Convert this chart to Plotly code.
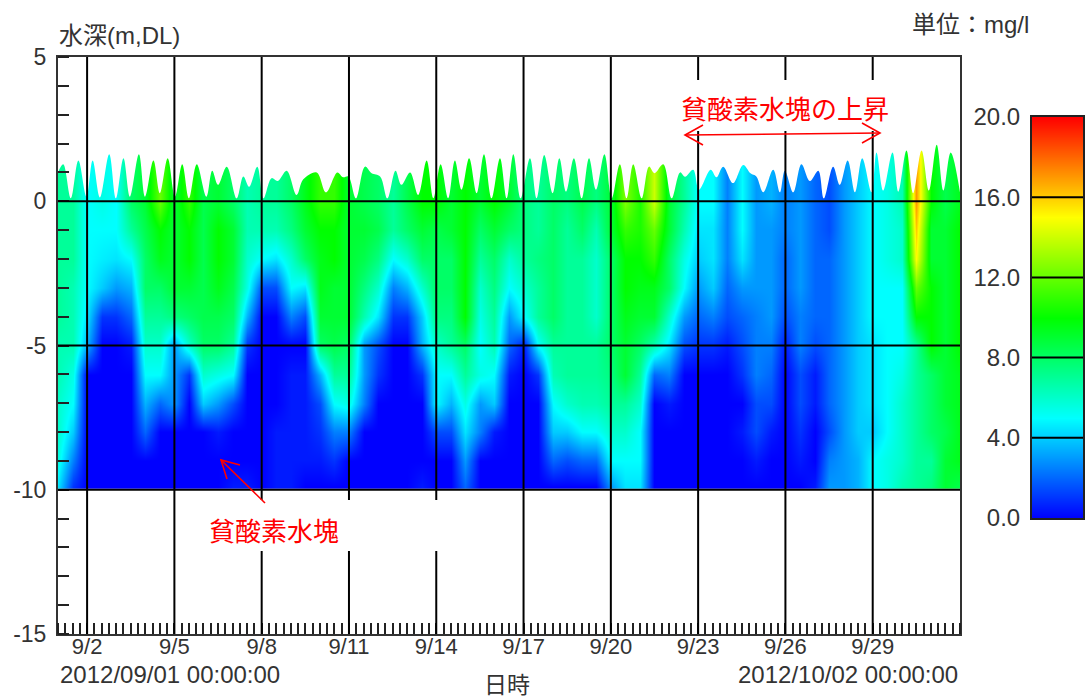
import plotly.graph_objects as go

W, H = 1086, 700

# Dissolved oxygen profiles (mg/l), one per half day from 2012/09/01 00:00.
# Each list runs through depth_m from the surface downwards.
depth_m = [0, -1, -2, -3, -4, -5, -6, -7, -8, -9, -9.9]
days = [i * 0.5 for i in range(63)]
oxygen_profiles = [
    [7, 7, 7, 7, 7, 6.5, 6.5, 6, 6, 5.5, 4.5],
    [7, 7, 7, 6.5, 6.5, 6.5, 5.5, 5, 4, 2.5, 1],
    [5, 5, 5, 5, 4.5, 3.5, 0, 0, 0, 0, 0],
    [5.5, 5, 4.7, 4, 1, 0, 0, 0, 0, 0, 0],
    [5, 5, 4.5, 3, 1, 0, 0, 0, 0, 0, 0],
    [8, 7, 5, 3.5, 2, .5, 0, 0, 0, 0, 0],
    [9, 8.5, 8, 8, 7, 6, 5, 3.5, 2, 0, 0],
    [12, 10, 9.5, 8, 7, 6, 5, 2, 0, 0, 0],
    [9, 9, 9, 9, 7.5, 3, 3, 3, 0, 0, 0],
    [11, 10, 10, 9, 8, 6, 1, 0, 0, 0, 0],
    [8.5, 8.5, 8.5, 8.5, 8.5, 8, 6, 4, 0, 0, 0],
    [9, 10, 10, 9.5, 8.5, 8, 5.5, 3, .5, 0, 0],
    [8, 9, 9, 8.5, 8, 7, 5, 1.5, 0, 0, .5],
    [6.5, 6.5, 6, 5.5, 3.5, 1, 0, 0, 0, 0, .5],
    [7, 6.5, 5, 1.5, 0, 0, 0, 0, 0, 0, 0],
    [7, 6.5, 4.5, 1.5, 0, 0, 0, 0, .5, .5, .5],
    [8, 7.5, 6, 5, 2.5, 0, .5, .5, .5, .5, .5],
    [9.5, 9, 8, 4.5, 1.5, 0, .5, .5, .5, .5, 0],
    [11, 10, 9.5, 9.5, 9, 8, 3.5, 1.5, 1, .5, 0],
    [11, 10, 10, 9, 9, 8.5, 7, 5, 2.5, 1, 0],
    [9, 9, 9, 9, 9, 8, 7, 5.5, 2.5, 0, 0],
    [8.5, 9, 8.5, 7.5, 6.5, 3, 3, 2.5, 0, 0, 0],
    [8, 8.5, 7.5, 6, 4.5, 1.5, 1, 0, 0, 0, 0],
    [7, 7, 5, 2.5, 1, 0, 0, 0, 0, 0, 0],
    [8.5, 8, 6, 3.5, 1, 0, 0, 0, 0, 0, 0],
    [10, 9, 8, 6, 4, 3.5, 1, 0, 0, 0, .5],
    [10, 8.5, 8, 8, 7.5, 6, 5, 5, 1.5, 0, 0],
    [9, 9, 8, 8, 7.5, 7, 5, 3.5, 1.5, 0, 0],
    [10, 10, 10, 10, 10, 8, 7, 5.5, 4.5, 3, 2],
    [9, 8, 7, 6, 5.5, 5, 5.5, 3, 2.5, 0, 0],
    [10, 9, 8, 7.5, 7, 6.5, 5, 4, .5, 0, 0],
    [9, 8, 6, 5, 3, 2, .5, 0, 0, 0, 0],
    [7.5, 7.5, 7, 6, 5, .5, 0, 0, 0, 0, 0],
    [7, 7, 7.5, 7, 7, 5, 1, 0, 0, 0, 0],
    [8, 8, 8, 8, 8, 7, 6.5, 5, 4, 2, 0],
    [7.5, 7, 7, 7, 7, 7, 7, 6, 4, 1.5, 0],
    [8.5, 8, 7, 7, 7, 7, 7, 6.5, 5, 2, 0],
    [7.5, 6.5, 6, 6, 6, 7, 7, 6.5, 5, 2, 0],
    [9, 9, 8, 8, 8, 8, 7.5, 7, 6, 5, 3],
    [12.5, 11, 10, 10, 9.5, 9, 9, 7, 6, 5, 4.5],
    [10.5, 10.5, 10, 9.5, 9, 8, 7, 6, 5, 5, 4.5],
    [14, 12, 11, 9.5, 9, 6.5, 2, 0, 0, 0, 0],
    [9, 9, 8, 8, 6, 4.5, 2.5, .5, 0, 0, 0],
    [7, 6.5, 5.5, 5, 3, 1.5, 0, 0, 0, 0, 0],
    [5, 4.5, 4, 3, 2, 1, 0, 0, 0, 0, 0],
    [5, 4.5, 4.5, 4, 2.5, 1, 0, 0, 0, 0, 0],
    [2.5, 2.5, 2.5, 2, 1.5, .5, 0, 0, 0, 0, 0],
    [5, 5, 4.5, 3, 2, 1.5, 1, 0, .5, 0, 0],
    [3, 3, 3, 3, 2.5, 2.5, 2.5, 1.5, 1.5, .5, 0],
    [3.5, 3, 3, 3, 3, 2.5, 2, 1.5, .5, 0, 0],
    [2.5, 2.5, 2, 2, 1.5, .5, 0, 0, 0, 0, 0],
    [3, 3, 3, 3, 2.5, 2.5, 1.5, 1.5, 1, .5, 0],
    [2, 2, 2, 2, 2, 1.5, .5, .5, 0, 0, .5],
    [1.5, 1.5, 2, 2, 2, 2, 2, 2, 1.5, 2.5, 3],
    [3, 3, 3, 3, 3, 3, 3, 3, 3, 3, 3],
    [4, 4, 4, 4, 4, 4, 4, 4, 4, 3.5, 3.5],
    [5, 5, 5, 5, 5, 4.5, 4.5, 4.5, 4, 5, 5],
    [5.5, 5.5, 5.5, 5, 5, 5, 5, 5, 5, 5.5, 5.5],
    [6.5, 6, 6, 5, 5, 5, 5.5, 6, 6, 6, 6.5],
    [17, 16, 15, 12, 10, 7, 7, 7, 7, 7, 7],
    [10, 9, 9, 10, 10, 10, 8, 8, 8, 7, 7.5],
    [8.5, 9, 9, 9, 9, 9, 9, 9, 8.5, 9, 9],
    [9.5, 10, 10, 10, 10, 10, 9.5, 9.5, 9.5, 9.5, 8.5],
]

# Water surface outline: tide peaks and troughs (day, metres).
surface_day = [
    0, .18, .44, .70, .98, 1.19, 1.44, 1.76, 1.99, 2.25, 2.47, 2.78, 2.99, 3.28, 3.5, 3.77, 4.02,
    4.27, 4.5, 4.77, 5.1, 5.3, 5.5, 5.8, 6.14, 6.37, 6.57, 6.85, 7.06, 7.34, 7.55, 7.86, 8.2, 8.43,
    8.89, 9.21, 9.6, 9.8, 9.98, 10.24, 10.55, 10.78, 11.07, 11.32, 11.6, 11.8, 12.1, 12.38, 12.67,
    12.9, 13.15, 13.41, 13.64, 13.87, 14.13, 14.39, 14.64, 14.9, 15.19, 15.42, 15.65, 15.9, 16.22,
    16.45, 16.71, 17.0, 17.23, 17.46, 17.73, 18.0, 18.25, 18.49, 18.78, 19.03, 19.31, 19.54, 19.77,
    20.06, 20.31, 20.5, 20.8, 21.09, 21.38, 21.55, 21.83, 22.03, 22.43, 22.63, 22.86, 23.2, 23.55,
    23.8, 24.0, 24.24, 24.58, 24.81, 24.98, 25.27, 25.55, 25.84, 26.13, 26.32, 26.64, 26.87, 27.14,
    27.39, 27.64, 27.96, 28.13, 28.36, 28.68, 28.88, 29.16, 29.39, 29.68, 29.93, 30.2, 30.43, 30.68,
    31,
]
surface_m = [
    1.0, 1.28, .1, 1.41, .16, 1.41, .13, 1.63, .1, 1.49, .16, 1.63, .16, 1.41, .28, 1.49, .16,
    1.28, .1, 1.28, .16, 1.06, .57, 1.2, .1, .86, .5, 1.2, .1, .8, .7, 1.06, .22, .76,
    1.0, .31, 1.0, .83, .86, .1, 1.2, .97, .86, .1, 1.06, .57, 1.0, .22, 1.41,
    .1, 1.28, .1, 1.41, .4, 1.49, .28, 1.63, .1, 1.49, .1, 1.63, .1, 1.49,
    .1, 1.6, .28, 1.49, .33, 1.49, .1, 1.49, .4, 1.63, .1, 1.28, .1, 1.28,
    .1, 1.2, .97, 1.28, .1, 1.0, .85, 1.09, .4, 1.09, .83, 1.2, .63, 1.26,
    .97, .86, .31, 1.09, .31, 1.06, .31, 1.28, .7, 1.06, .1, 1.2, .57, 1.41,
    .31, 1.49, .31, 1.69, .37, 1.69, .33, 1.76, .28, 1.76, .37, 1.96, .37, 1.69,
    .3,
]

colorbar_levels = list(range(21))
colorbar_ticks = [0, 4, 8, 12, 16, 20]
colorbar_labels = ["0.0", "4.0", "8.0", "12.0", "16.0", "20.0"]
date_days = [1, 4, 7, 10, 13, 16, 19, 22, 25, 28]
date_labels = ["9/2", "9/5", "9/8", "9/11", "9/14", "9/17", "9/20", "9/23", "9/26", "9/29"]
depth_ticks = [5, 0, -5, -10, -15]
depth_labels = ["5", "0", "-5", "-10", "-15"]
depth_grid = [0, -5, -10]

jet = [[0, "rgb(0,0,255)"], [.25, "rgb(0,255,255)"], [.5, "rgb(0,255,0)"],
       [.75, "rgb(255,255,0)"], [1, "rgb(255,0,0)"]]
FONT = "Liberation Sans, Noto Sans CJK JP, sans-serif"
TXT = "#333333"


def xp(px):
    return px / W


def yp(py):
    return 1 - py / H


rows = [list(r) for r in zip(*oxygen_profiles)]
z = [rows[0]] + rows + [rows[-1]]
y = [2] + depth_m + [-9.95]

fig = go.Figure()
fig.add_trace(go.Heatmap(x=days, y=y, z=z, zmin=0, zmax=20, colorscale=jet, zsmooth="best",
                         showscale=False, hoverinfo="skip"))
fig.add_trace(go.Scatter(x=surface_day, y=surface_m, mode="lines",
                         line=dict(width=0, shape="spline", smoothing=1.0),
                         hoverinfo="skip", showlegend=False))
fig.add_trace(go.Scatter(x=[0, 31], y=[5, 5], mode="lines", line=dict(width=0), fill="tonexty",
                         fillcolor="white", hoverinfo="skip", showlegend=False))
fig.add_trace(go.Heatmap(x=[0, 1], y=colorbar_levels, z=[[v, v] for v in colorbar_levels], zmin=0,
                         zmax=20, colorscale=jet, zsmooth="best", showscale=False,
                         hoverinfo="skip", xaxis="x2", yaxis="y2"))

shapes = []
for d in date_days:
    shapes.append(dict(type="line", xref="x", yref="y", x0=d, x1=d, y0=-15, y1=5,
                       line=dict(color="black", width=2)))
for v in depth_grid:
    shapes.append(dict(type="line", xref="x", yref="y", x0=0, x1=31, y0=v, y1=v,
                       line=dict(color="black", width=2)))
for v in colorbar_ticks[1:-1]:
    shapes.append(dict(type="line", xref="x2", yref="y2", x0=0, x1=1, y0=v, y1=v,
                       line=dict(color="black", width=2)))


def box(x0, y0, x1, y1):
    shapes.append(dict(type="rect", xref="paper", yref="paper", x0=xp(x0), x1=xp(x1), y0=yp(y1),
                       y1=yp(y0), fillcolor="white", line=dict(width=0)))


def stroke(*pts):
    d = "M " + " L ".join(f"{xp(a):.5f} {yp(b):.5f}" for a, b in pts)
    shapes.append(dict(type="path", xref="paper", yref="paper", path=d,
                       line=dict(color="#ff0000", width=1.6)))


box(241, 500, 440, 551)
box(683, 80, 890, 131)
stroke((685, 135), (880, 133))
stroke((703, 125), (685, 135), (703, 145))
stroke((862, 123), (880, 133), (862, 143))
stroke((265, 503), (221, 460))
stroke((240, 465), (221, 460), (227, 479))

annots = [
    ("水深(m,DL)", 57, 36, "left", 24),
    ("単位：mg/l", 1031, 25, "right", 24),
    ("2012/09/01 00:00:00", 58, 674, "left", 24),
    ("2012/10/02 00:00:00", 960, 674, "right", 24),
    ("日時", 507, 685, "center", 23),
]
annotations = [dict(text=t, x=xp(a), y=yp(b), xref="paper", yref="paper", xanchor=al, yanchor="middle",
                    showarrow=False, font=dict(family=FONT, size=s, color=TXT)) for t, a, b, al, s in annots]
annotations += [
    dict(text="貧酸素水塊の上昇", x=xp(785), y=yp(108), xref="paper", yref="paper", showarrow=False,
         xanchor="center", yanchor="middle", font=dict(family="Noto Sans CJK JP", size=26, color="#ff0000")),
    dict(text="貧酸素水塊", x=xp(274), y=yp(529), xref="paper", yref="paper", showarrow=False,
         xanchor="center", yanchor="middle", font=dict(family="Noto Sans CJK JP", size=26, color="#ff0000")),
]

fig.update_layout(
    width=W, height=H, margin=dict(l=0, r=0, t=0, b=0, autoexpand=False), paper_bgcolor="white",
    plot_bgcolor="white", showlegend=False, shapes=shapes, annotations=annotations,
    font=dict(family=FONT, size=23, color=TXT),
    xaxis=dict(domain=[xp(58), xp(960)], range=[0, 31], tickmode="array", tickvals=date_days,
               ticktext=date_labels, ticks="", showgrid=False, zeroline=False, showline=True, mirror=True,
               linecolor="#333333", linewidth=2, tickfont=dict(size=22), ticklabelstandoff=-8,
               minor=dict(ticks="inside", dtick=.25, tick0=0, ticklen=11, tickwidth=1.5, tickcolor="#222222",
                          showgrid=False)),
    yaxis=dict(domain=[yp(634), yp(57)], range=[-15, 5], tickmode="array", tickvals=depth_ticks,
               ticktext=depth_labels, ticks="", showgrid=False, zeroline=False, showline=True, mirror=True,
               linecolor="#333333", linewidth=2, tickfont=dict(size=23), ticklabelstandoff=5,
               minor=dict(ticks="inside", dtick=1, tick0=0, ticklen=11, tickwidth=1.5, tickcolor="#222222",
                          showgrid=False)),
    xaxis2=dict(domain=[xp(1032), xp(1083)], range=[0, 1], anchor="y2", showticklabels=False, ticks="",
                showgrid=False, zeroline=False, showline=True, mirror=True, linecolor="#222222", linewidth=2),
    yaxis2=dict(domain=[yp(518), yp(117)], range=[0, 20], anchor="x2", tickmode="array",
                tickvals=colorbar_ticks, ticktext=colorbar_labels, ticks="outside", ticklen=5,
                tickcolor="rgba(0,0,0,0)", showgrid=False, zeroline=False, showline=True, mirror=True,
                linecolor="#222222", linewidth=2, tickfont=dict(size=24)),
)
fig.write_html("out.html", config={"displayModeBar": False},
               post_script="document.body.style.margin='0';document.documentElement.style.overflow='hidden';")
